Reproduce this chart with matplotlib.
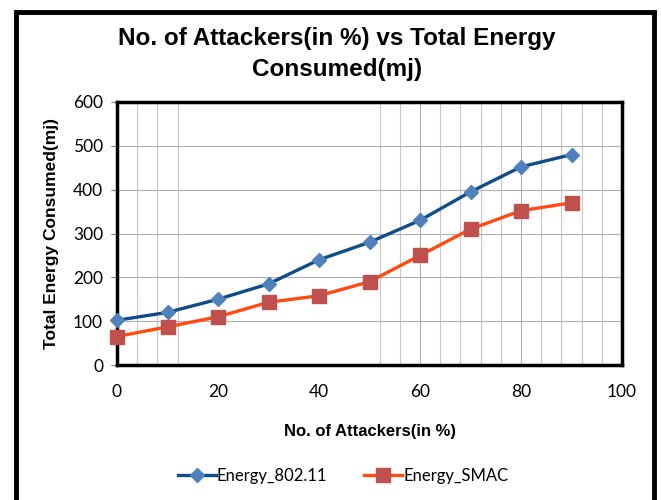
import matplotlib.pyplot as plt
from matplotlib.patches import Rectangle

attackers = [0, 10, 20, 30, 40, 50, 60, 70, 80, 90]
energy_80211 = [102, 120, 150, 185, 240, 280, 330, 395, 452, 480]
energy_smac = [65, 87, 110, 143, 158, 190, 250, 310, 352, 370]
x_ticks = [0, 20, 40, 60, 80, 100]
y_ticks = [0, 100, 200, 300, 400, 500, 600]
# odd minor vertical gridlines as they appear in the source
minor_x = [4, 8, 12, 52, 56, 64, 68, 72, 76, 84, 88, 92, 96]

fig = plt.figure(figsize=(6.61, 5.0), dpi=100)

# outer chart frame
fig.patches.append(Rectangle((16 / 661, -0.05), (654 - 16) / 661, 1.05 - 12 / 500,
                             transform=fig.transFigure, fill=False,
                             edgecolor="black", linewidth=3.5))

ax = fig.add_axes([117 / 661, 1 - 365 / 500, (622 - 117) / 661, (365 - 102) / 500])

for xv in minor_x:
    ax.axvline(xv, color="#c8c8c8", linewidth=0.8, zorder=0)
for xv in [60, 80]:
    ax.axvline(xv, color="#b0b0b0", linewidth=0.8, zorder=0)
for yv in y_ticks[1:-1]:
    ax.axhline(yv, color="#b0b0b0", linewidth=0.8, zorder=0)

ax.plot(attackers, energy_80211, color="#0F4C8A", linewidth=2.4,
        marker="D", markersize=7, markerfacecolor="#4F81BD",
        markeredgecolor="#4F81BD", label="Energy_802.11", clip_on=False, zorder=3)
ax.plot(attackers, energy_smac, color="#FF4A12", linewidth=2.4,
        marker="s", markersize=10, markerfacecolor="#C0504D",
        markeredgecolor="#C0504D", label="Energy_SMAC", clip_on=False, zorder=3)

ax.set_xlim(0, 100)
ax.set_ylim(0, 600)
ax.set_xticks(x_ticks)
ax.set_yticks(y_ticks)
ax.tick_params(axis="x", length=0, pad=14, labelsize=12.5)
ax.tick_params(axis="y", length=4, pad=6, labelsize=12.5, color="#808080")
for lab in ax.get_xticklabels() + ax.get_yticklabels():
    lab.set_fontfamily("Lato")
for sp in ax.spines.values():
    sp.set_linewidth(2.5)
    sp.set_color("black")

ax.set_xlabel("No. of Attackers(in %)", fontsize=12, fontweight="bold",
              fontfamily="Liberation Sans", labelpad=17)
ax.set_ylabel("Total Energy Consumed(mj)", fontsize=12.5, fontweight="bold",
              fontfamily="Liberation Sans", labelpad=10)

fig.text(0.51, 1 - 54 / 500, "No. of Attackers(in %) vs Total Energy\nConsumed(mj)",
         ha="center", va="center", fontsize=17.5, fontweight="bold",
         fontfamily="Liberation Sans", linespacing=1.4)

leg = fig.legend(loc="center", bbox_to_anchor=(343 / 661, 1 - 476 / 500), ncol=2,
                 frameon=False, handlelength=2.3, columnspacing=2.2,
                 handletextpad=0.05, markerscale=1.05,
                 prop={"family": "Lato", "size": 12})

fig.savefig("out.png", dpi=100)
